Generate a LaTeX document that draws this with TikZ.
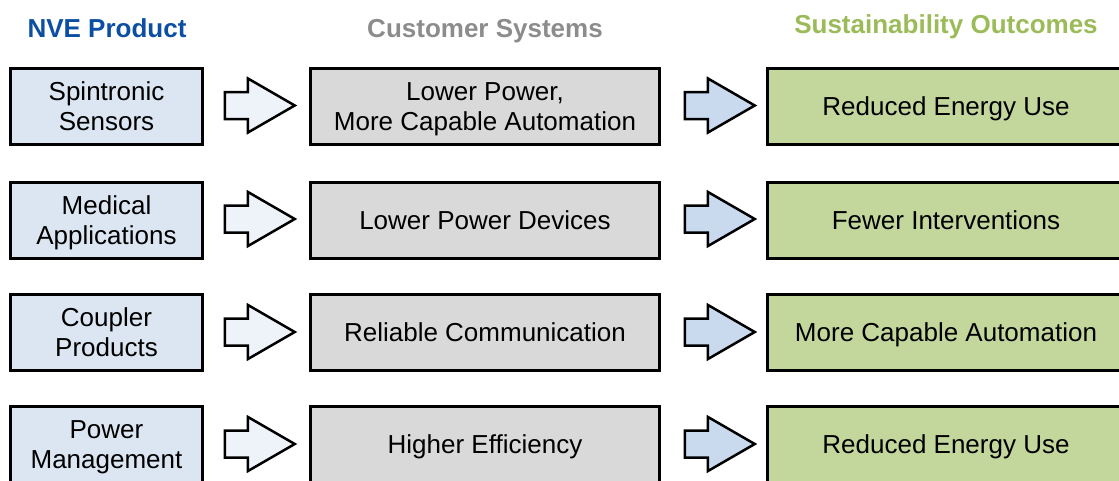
\documentclass[tikz,border=0pt]{standalone}
\usepackage{fontspec}
\setmainfont{Liberation Sans}
\usetikzlibrary{shapes.arrows}

\definecolor{nveblue}{HTML}{0B4EA2}
\definecolor{sysgray}{HTML}{8C8C8C}
\definecolor{outgreen}{HTML}{9BBB59}
\definecolor{prodfill}{HTML}{DCE6F2}
\definecolor{sysfill}{HTML}{D9D9D9}
\definecolor{outfill}{HTML}{C3D69B}
\definecolor{arrowpale}{HTML}{EEF3FA}
\definecolor{arrowblue}{HTML}{C9DAEF}

\tikzset{
  heading/.style={anchor=base, font=\fontsize{26pt}{30pt}\selectfont\bfseries},
  box/.style={draw, line width=3pt, minimum height=76pt, inner sep=0pt, align=center,
    text depth=0pt, font=\fontsize{26pt}{30pt}\selectfont},
  prodbox/.style={box, fill=prodfill, minimum width=192pt},
  sysbox/.style={box, fill=sysfill, minimum width=349pt},
  outbox/.style={box, fill=outfill, minimum width=357pt},
  fatarrow/.style={single arrow, draw, line width=2.5pt, inner sep=12.25pt, anchor=tail,
    single arrow head extend=13.5pt, single arrow tip angle=60, minimum height=70pt},
}

\begin{document}
\begin{tikzpicture}[x=1pt, y=-1pt]
\useasboundingbox (0,0) rectangle (1119,480);
% column headings
\node[heading, nveblue] (h0) at (107, 37) {NVE Product};
\node[heading, sysgray] (h1) at (485, 37) {Customer Systems};
\node[heading, outgreen] (h2) at (946, 33) {Sustainability Outcomes};
% NVE products
\node[prodbox] (p1) at (106.5, 106.5) {Spintronic\\Sensors};
\node[prodbox] (p2) at (106.5, 220) {Medical\\Applications};
\node[prodbox] (p3) at (106.5, 332.5) {Coupler\\Products};
\node[prodbox] (p4) at (106.5, 444.5) {Power\\Management};
% customer systems
\node[sysbox] (s1) at (485, 106.5) {Lower Power,\\More Capable Automation};
\node[sysbox] (s2) at (485, 220) {Lower Power Devices};
\node[sysbox] (s3) at (485, 332.5) {Reliable Communication};
\node[sysbox] (s4) at (485, 444.5) {Higher Efficiency};
% outcomes
\node[outbox] (o1) at (946, 106.5) {Reduced Energy Use};
\node[outbox] (o2) at (946, 220) {Fewer Interventions};
\node[outbox] (o3) at (946, 332.5) {More Capable Automation};
\node[outbox] (o4) at (946, 444.5) {Reduced Energy Use};
% arrows
\node[fatarrow, fill=arrowpale] (a1) at (223.5, 105.5) {};
\node[fatarrow, fill=arrowpale] (a2) at (223.5, 219) {};
\node[fatarrow, fill=arrowpale] (a3) at (223.5, 332) {};
\node[fatarrow, fill=arrowpale] (a4) at (223.5, 444) {};
\node[fatarrow, fill=arrowblue] (b1) at (683.5, 105.5) {};
\node[fatarrow, fill=arrowblue] (b2) at (683.5, 219) {};
\node[fatarrow, fill=arrowblue] (b3) at (683.5, 332) {};
\node[fatarrow, fill=arrowblue] (b4) at (683.5, 444) {};
\end{tikzpicture}
\end{document}
